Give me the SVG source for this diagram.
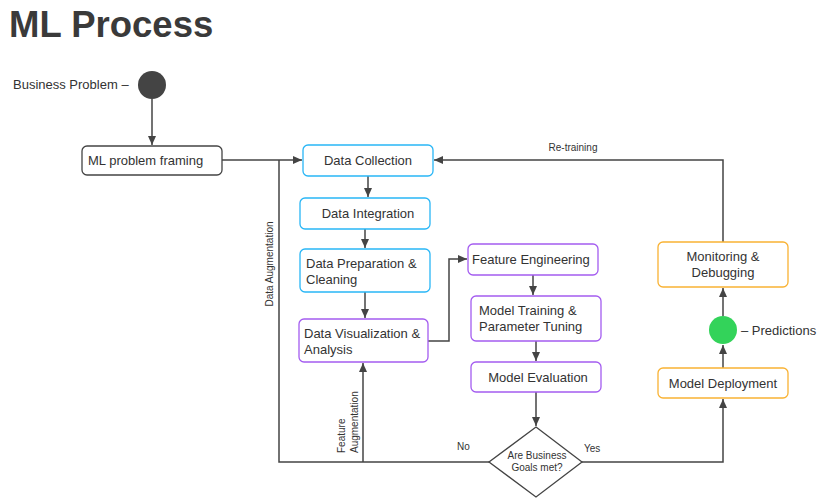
<svg xmlns="http://www.w3.org/2000/svg" width="829" height="500" viewBox="0 0 829 500">
<style>
text{font-family:"Liberation Sans",Arial,sans-serif;fill:#333;}
.t{font-size:13px;}
.s{font-size:10px;}
.box{fill:#fff;stroke-width:1.3;}
.blue{stroke:#29B6F6;}
.purple{stroke:#A45CF0;}
.orange{stroke:#F9B233;}
.gray{stroke:#444;}
.ln{fill:none;stroke:#444;stroke-width:1.5;}
</style>
<defs>
<marker id="ah" markerWidth="10" markerHeight="10" refX="9" refY="5" orient="auto" markerUnits="userSpaceOnUse">
<path d="M0,1 L9,5 L0,9 Z" fill="#444"/>
</marker>
</defs>
<rect width="829" height="500" fill="#fff"/>
<text x="9" y="37" style="font-size:36.5px;font-weight:bold;fill:#3a3a3a">ML Process</text>

<g id="connectors">
<path class="ln" d="M152,99 V145" marker-end="url(#ah)"/>
<path class="ln" d="M222,160 H302" marker-end="url(#ah)"/>
<path class="ln" d="M279,160 V462 H489"/>
<path class="ln" d="M368,176 V197" marker-end="url(#ah)"/>
<path class="ln" d="M365,229 V248" marker-end="url(#ah)"/>
<path class="ln" d="M365,292 V318" marker-end="url(#ah)"/>
<path class="ln" d="M428,341 H449 V259 H467" marker-end="url(#ah)"/>
<path class="ln" d="M533,275 V295" marker-end="url(#ah)"/>
<path class="ln" d="M536,341 V361" marker-end="url(#ah)"/>
<path class="ln" d="M536,392 V426" marker-end="url(#ah)"/>
<path class="ln" d="M363,462 V363" marker-end="url(#ah)"/>
<path class="ln" d="M582,462 H723 V399" marker-end="url(#ah)"/>
<path class="ln" d="M723,368 V345" marker-end="url(#ah)"/>
<path class="ln" d="M723,316 V288" marker-end="url(#ah)"/>
<path class="ln" d="M723,242 V160 H434" marker-end="url(#ah)"/>
<text class="s" x="573" y="151" text-anchor="middle">Re-training</text>
<text class="s" transform="translate(273,264) rotate(-90)" text-anchor="middle">Data Augmentation</text>
<text class="s" transform="translate(345,453) rotate(-90)">Feature</text>
<text class="s" transform="translate(358,453) rotate(-90)">Augmentation</text>
<text class="s" x="457" y="450">No</text>
<text class="s" x="584" y="452">Yes</text>
</g>

<g id="start">
<circle cx="152" cy="85" r="14" fill="#444"/>
<text class="t" x="13" y="89">Business Problem –</text>
</g>
<g id="framing">
<rect class="box gray" x="82" y="146" width="140" height="29" rx="5"/>
<text class="t" x="88" y="165">ML problem framing</text>
</g>
<g id="collection">
<rect class="box blue" x="303" y="145" width="130" height="31" rx="5"/>
<text class="t" x="368" y="165" text-anchor="middle">Data Collection</text>
</g>
<g id="integration">
<rect class="box blue" x="300" y="198" width="130" height="31" rx="5"/>
<text class="t" x="368" y="218" text-anchor="middle">Data Integration</text>
</g>
<g id="preparation">
<rect class="box blue" x="300" y="249" width="130" height="43" rx="5"/>
<text class="t" x="306" y="268">Data Preparation &amp;</text>
<text class="t" x="306" y="284">Cleaning</text>
</g>
<g id="visualization">
<rect class="box purple" x="299" y="319" width="129" height="43" rx="5"/>
<text class="t" x="304" y="338">Data Visualization &amp;</text>
<text class="t" x="304" y="354">Analysis</text>
</g>
<g id="feature">
<rect class="box purple" x="468" y="244" width="130" height="31" rx="5"/>
<text class="t" x="472" y="264">Feature Engineering</text>
</g>
<g id="training">
<rect class="box purple" x="471" y="296" width="130" height="45" rx="5"/>
<text class="t" x="479" y="315">Model Training &amp;</text>
<text class="t" x="479" y="331">Parameter Tuning</text>
</g>
<g id="evaluation">
<rect class="box purple" x="471" y="362" width="130" height="30" rx="5"/>
<text class="t" x="538" y="382" text-anchor="middle">Model Evaluation</text>
</g>
<g id="decision">
<polygon points="536,427 582,462 536,497 489,462" fill="#fff" stroke="#444" stroke-width="1.3"/>
<text class="s" x="537" y="459" text-anchor="middle">Are Business</text>
<text class="s" x="537" y="471" text-anchor="middle">Goals met?</text>
</g>
<g id="deployment">
<rect class="box orange" x="658" y="368" width="130" height="30" rx="5"/>
<text class="t" x="723" y="388" text-anchor="middle">Model Deployment</text>
</g>
<g id="predictions">
<circle cx="723" cy="330" r="14" fill="#33D35A"/>
<text class="t" x="741" y="335">– Predictions</text>
</g>
<g id="monitoring">
<rect class="box orange" x="658" y="242" width="130" height="45" rx="5"/>
<text class="t" x="723" y="261" text-anchor="middle">Monitoring &amp;</text>
<text class="t" x="723" y="277" text-anchor="middle">Debugging</text>
</g>
</svg>
